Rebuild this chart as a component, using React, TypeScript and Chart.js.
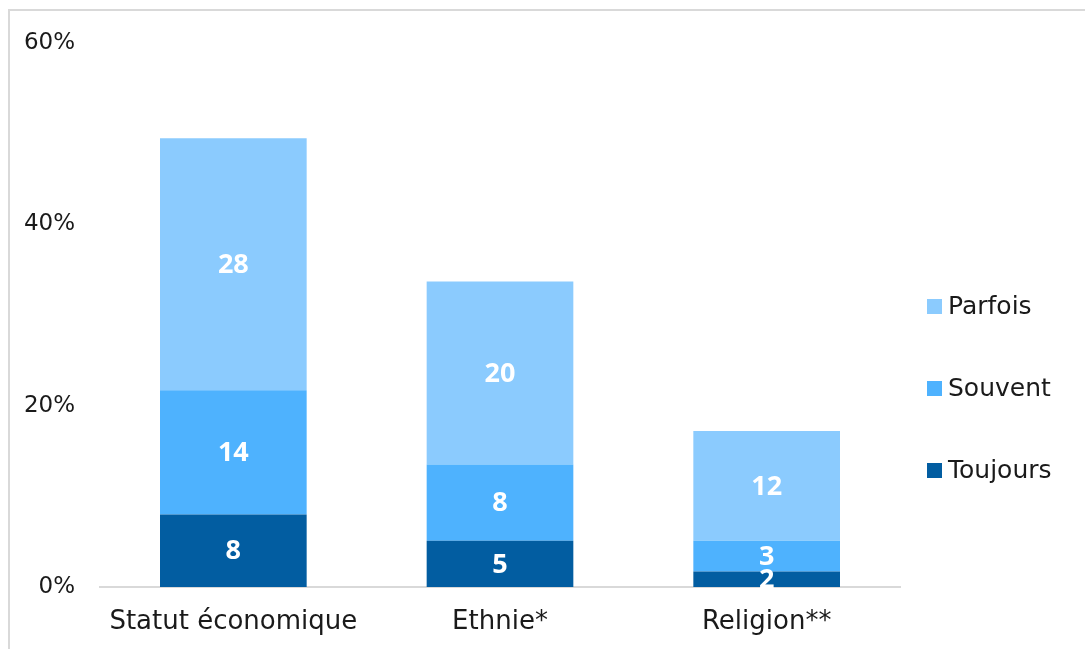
import React, { useEffect, useRef } from "react";
import { Chart, registerables } from "chart.js";

Chart.register(...registerables);

const categories = ["Statut économique", "Ethnie*", "Religion**"];
const toujours = [8.0, 5.1, 1.7];
const souvent = [13.7, 8.4, 3.4];
const parfois = [27.8, 20.2, 12.1];
const seriesNames = ["Toujours", "Souvent", "Parfois"];
const seriesColors = ["#025DA1", "#4EB2FE", "#8BCBFE"];
const yTicks = [0, 20, 40, 60];

const FONT = "'DejaVu Sans', sans-serif";

const valueLabels = {
  id: "valueLabels",
  afterDatasetsDraw(chart: any) {
    const ctx = chart.ctx;
    ctx.save();
    ctx.fillStyle = "#ffffff";
    ctx.font = "bold 27px 'Open Sans', sans-serif";
    ctx.textAlign = "center";
    ctx.textBaseline = "middle";
    chart.data.datasets.forEach((ds: any, di: number) => {
      const meta = chart.getDatasetMeta(di);
      meta.data.forEach((el: any, i: number) => {
        const v = ds.data[i];
        const cy = (el.y + el.base) / 2;
        ctx.fillText(String(Math.round(v)), el.x, cy + 1);
      });
    });
    ctx.restore();
  },
};

const sideLegend = {
  id: "sideLegend",
  afterDraw(chart: any) {
    const ctx = chart.ctx;
    const area = chart.chartArea;
    ctx.save();
    ctx.font = "25px " + FONT;
    ctx.textAlign = "left";
    ctx.textBaseline = "middle";
    const n = chart.data.datasets.length;
    for (let k = 0; k < n; k++) {
      const ds = chart.data.datasets[k];
      const cy = area.bottom - 117 - k * 82;
      const x = area.right + 27;
      ctx.fillStyle = ds.backgroundColor;
      ctx.fillRect(x, cy - 7, 15, 15);
      ctx.fillStyle = "#1a1a1a";
      ctx.fillText(ds.label, x + 21, cy + 1);
    }
    ctx.restore();
  },
};

export default function App() {
  const ref = useRef<HTMLCanvasElement | null>(null);
  useEffect(() => {
    if (!ref.current) return;
    const chart = new Chart(ref.current, {
      type: "bar",
      data: {
        labels: categories,
        datasets: [
          { label: seriesNames[0], data: toujours, backgroundColor: seriesColors[0] },
          { label: seriesNames[1], data: souvent, backgroundColor: seriesColors[1] },
          { label: seriesNames[2], data: parfois, backgroundColor: seriesColors[2] },
        ],
      },
      options: {
        animation: false,
        responsive: false,
        maintainAspectRatio: false,
        layout: { padding: { left: 22, top: 43, right: 185, bottom: 12 } },
        datasets: { bar: { barPercentage: 0.55, categoryPercentage: 1 } },
        plugins: { legend: { display: false }, tooltip: { enabled: false } },
        scales: {
          x: {
            stacked: true,
            grid: { display: false, drawTicks: false },
            border: { display: true, color: "#d9d9d9", width: 2 },
            ticks: { color: "#1a1a1a", font: { family: FONT, size: 26 }, padding: 20, maxRotation: 0 },
            afterFit: (a: any) => {
              a.paddingLeft = 0;
              a.paddingRight = 0;
              a.height = 50;
            },
          },
          y: {
            stacked: true,
            min: 0,
            max: 60,
            afterBuildTicks: (axis: any) => {
              axis.ticks = yTicks.map((v) => ({ value: v }));
            },
            grid: { display: false, drawTicks: false },
            border: { display: false },
            ticks: {
              color: "#1a1a1a",
              font: { family: FONT, size: 23 },
              padding: 25,
              callback: (v: any) => v + "%",
            },
            afterFit: (a: any) => {
              a.width = 78;
              a.paddingTop = 0;
              a.paddingBottom = 0;
            },
          },
        },
      },
      plugins: [valueLabels, sideLegend],
    });
    return () => chart.destroy();
  }, []);
  return (
    <>
      <div
        style={{
          position: "absolute",
          left: 8,
          top: 9,
          width: 1077,
          height: 640,
          boxSizing: "border-box",
          borderLeft: "2px solid #d9d9d9",
          borderTop: "2px solid #d9d9d9",
        }}
      />
      <canvas
        ref={ref}
        width={1085}
        height={649}
        style={{ position: "absolute", left: 0, top: 0, width: 1085, height: 649 }}
      />
    </>
  );
}
